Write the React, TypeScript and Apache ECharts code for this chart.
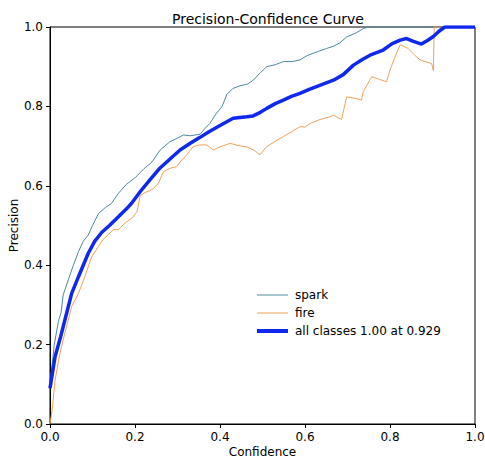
import React, { useEffect, useRef } from "react";
import * as echarts from "echarts";

const seriesNames = ["spark", "fire", "all classes 1.00 at 0.929"];

const sparkData: [number, number][] = [
  [0, 0.1], [0.01, 0.2], [0.02, 0.26], [0.026, 0.28], [0.031, 0.325], [0.043, 0.363],
  [0.055, 0.4], [0.067, 0.434], [0.078, 0.46], [0.09, 0.476], [0.1, 0.5], [0.114, 0.53],
  [0.13, 0.545], [0.145, 0.556], [0.16, 0.58], [0.18, 0.604], [0.2, 0.62], [0.22, 0.642],
  [0.24, 0.66], [0.259, 0.69], [0.282, 0.711], [0.3, 0.72], [0.314, 0.728], [0.33, 0.726],
  [0.353, 0.73], [0.365, 0.745], [0.376, 0.757], [0.392, 0.783], [0.405, 0.8], [0.416, 0.83],
  [0.43, 0.845], [0.447, 0.852], [0.465, 0.856], [0.478, 0.866], [0.495, 0.885], [0.51, 0.9],
  [0.53, 0.905], [0.549, 0.913], [0.57, 0.913], [0.588, 0.917], [0.605, 0.928], [0.62, 0.934],
  [0.635, 0.94], [0.651, 0.946], [0.668, 0.952], [0.682, 0.96], [0.698, 0.975], [0.72, 0.985],
  [0.737, 0.996], [0.75, 1.0], [1, 1.0],
];

const fireData: [number, number][] = [
  [0, 0.0], [0.005, 0.035], [0.012, 0.11], [0.02, 0.16], [0.027, 0.195], [0.04, 0.25],
  [0.051, 0.296], [0.067, 0.329], [0.082, 0.371], [0.098, 0.421], [0.114, 0.447], [0.125, 0.465],
  [0.137, 0.476], [0.149, 0.49], [0.161, 0.489], [0.175, 0.505], [0.192, 0.518], [0.205, 0.535],
  [0.212, 0.575], [0.224, 0.583], [0.24, 0.59], [0.255, 0.606], [0.267, 0.636], [0.285, 0.645],
  [0.298, 0.648], [0.31, 0.665], [0.322, 0.678], [0.337, 0.699], [0.352, 0.703], [0.369, 0.703],
  [0.384, 0.69], [0.4, 0.698], [0.424, 0.707], [0.44, 0.702], [0.463, 0.698], [0.48, 0.69],
  [0.494, 0.678], [0.503, 0.69], [0.51, 0.699], [0.53, 0.712], [0.549, 0.724], [0.57, 0.737],
  [0.588, 0.749], [0.6, 0.748], [0.612, 0.757], [0.635, 0.767], [0.659, 0.774], [0.667, 0.778],
  [0.686, 0.767], [0.698, 0.824], [0.72, 0.82], [0.733, 0.816], [0.737, 0.837], [0.757, 0.875],
  [0.775, 0.868], [0.792, 0.862], [0.8, 0.892], [0.812, 0.925], [0.824, 0.955], [0.843, 0.946],
  [0.857, 0.93], [0.871, 0.917], [0.898, 0.908], [0.902, 0.89], [0.904, 1.0], [1, 1.0],
];

const allData: [number, number][] = [
  [0, 0.09], [0.012, 0.17], [0.025, 0.22], [0.035, 0.262], [0.051, 0.329], [0.067, 0.371],
  [0.09, 0.43], [0.105, 0.46], [0.122, 0.483], [0.14, 0.5], [0.161, 0.522], [0.18, 0.542],
  [0.192, 0.556], [0.212, 0.585], [0.235, 0.615], [0.259, 0.645], [0.283, 0.668], [0.306, 0.69],
  [0.33, 0.707], [0.353, 0.722], [0.375, 0.737], [0.4, 0.752], [0.431, 0.77], [0.463, 0.774],
  [0.478, 0.776], [0.495, 0.785], [0.51, 0.795], [0.53, 0.807], [0.549, 0.816], [0.568, 0.825],
  [0.588, 0.833], [0.61, 0.843], [0.627, 0.85], [0.647, 0.858], [0.667, 0.866], [0.69, 0.88],
  [0.714, 0.904], [0.735, 0.918], [0.753, 0.929], [0.784, 0.942], [0.805, 0.958], [0.824, 0.967],
  [0.839, 0.971], [0.855, 0.964], [0.874, 0.957], [0.888, 0.966], [0.902, 0.976], [0.916, 0.99],
  [0.929, 1.0], [1, 1.0],
];

const FONT = "DejaVu Sans";
const COLORS = ["#4d8aa0", "#eea25c", "#1028ee"];

export default function App() {
  const ref = useRef<HTMLDivElement>(null);
  useEffect(() => {
    if (!ref.current) return;
    const chart = echarts.init(ref.current, null, { renderer: "svg" });
    const axisCommon = {
      type: "value" as const,
      min: 0,
      max: 1,
      interval: 0.2,
      splitLine: { show: false },
      axisLine: { show: true, lineStyle: { color: "#000", width: 1 } },
      axisTick: { show: true, inside: false, length: 4, lineStyle: { color: "#000" } },
      axisLabel: {
        color: "#000",
        fontFamily: FONT,
        fontSize: 12,
        margin: 7,
        formatter: (v: number) => v.toFixed(1),
      },
      nameLocation: "middle" as const,
      nameMoveOverlap: false,
      nameTextStyle: { color: "#000", fontFamily: FONT, fontSize: 12 },
    };
    const thin = "path://M0,0H31V1H0Z";
    const thick = "path://M0,0H31V4H0Z";
    chart.setOption({
      animation: false,
      backgroundColor: "#fff",
      title: {
        text: "Precision-Confidence Curve",
        left: 263,
        textAlign: "center",
        top: 7,
        textStyle: { color: "#000", fontFamily: FONT, fontSize: 14, fontWeight: "normal" },
      },
      grid: {
        left: 50,
        right: 10,
        top: 27,
        bottom: 37,
        show: true,
        borderColor: "#000",
        borderWidth: 1,
        backgroundColor: "transparent",
        containLabel: false,
        outerBoundsMode: "none",
      },
      legend: {
        orient: "vertical",
        left: 252,
        top: 284,
        itemWidth: 31,
        itemHeight: 14,
        itemGap: 6,
        data: [
          { name: seriesNames[0], icon: thin, itemStyle: { color: COLORS[0] } },
          { name: seriesNames[1], icon: thin, itemStyle: { color: COLORS[1] } },
          { name: seriesNames[2], icon: thick, itemStyle: { color: COLORS[2] } },
        ],
        textStyle: { color: "#000", fontFamily: FONT, fontSize: 12, padding: [0, 0, 0, 2] },
      },
      xAxis: {
        ...axisCommon,
        name: "Confidence",
        nameGap: 22,
      },
      yAxis: {
        ...axisCommon,
        name: "Precision",
        nameGap: 30,
        nameRotate: 90,
      },
      series: [
        {
          name: seriesNames[0],
          type: "line",
          data: sparkData,
          symbol: "none",
          lineStyle: { color: COLORS[0], width: 1 },
          itemStyle: { color: COLORS[0] },
        },
        {
          name: seriesNames[1],
          type: "line",
          data: fireData,
          symbol: "none",
          lineStyle: { color: COLORS[1], width: 1 },
          itemStyle: { color: COLORS[1] },
        },
        {
          name: seriesNames[2],
          type: "line",
          data: allData,
          symbol: "none",
          lineStyle: { color: COLORS[2], width: 3.5 },
          itemStyle: { color: COLORS[2] },
        },
      ],
    });
    return () => chart.dispose();
  }, []);
  return (
    <div
      ref={ref}
      style={{ position: "fixed", left: 0, top: 0, width: 485, height: 461 }}
    />
  );
}
